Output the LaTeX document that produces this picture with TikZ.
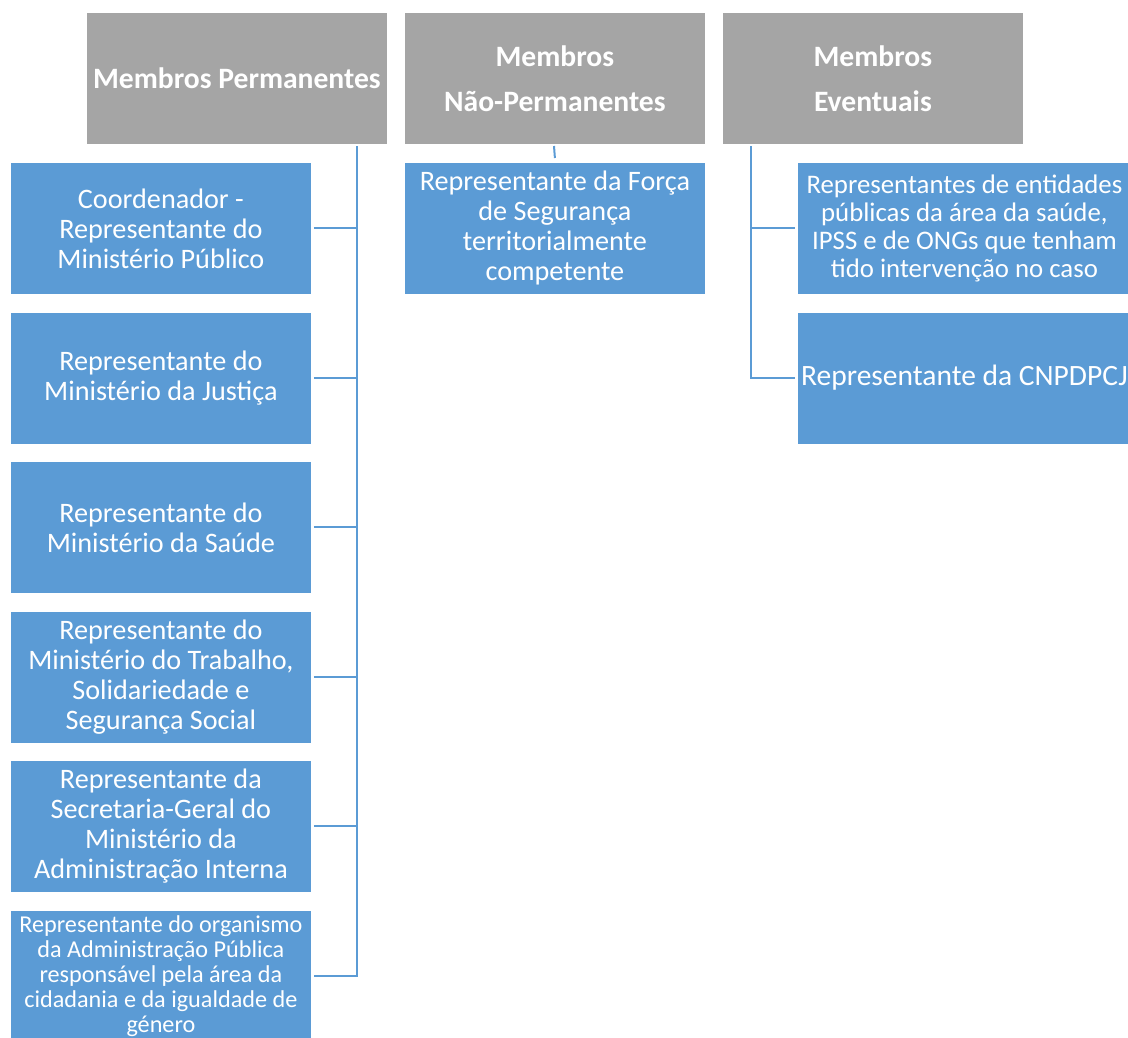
\documentclass[tikz,border=0pt]{standalone}
\usepackage{fontspec}
\setmainfont{Carlito}
\definecolor{hdr}{HTML}{A5A5A5}
\definecolor{blu}{HTML}{5B9BD5}
\begin{document}
\begin{tikzpicture}[x=1pt,y=-1pt,
  hdrbox/.style={fill=hdr,draw=white,line width=0.8pt,minimum width=301pt,minimum height=132pt,inner sep=0pt,anchor=north west,text=white,align=center,font=\bfseries\fontsize{29.6}{45}\selectfont},
  bbox/.style={fill=blu,draw=white,line width=0.8pt,minimum width=301pt,minimum height=132pt,inner sep=0pt,anchor=north west,text=white,align=center,font=\fontsize{28.2}{30}\selectfont},
  conn/.style={draw=blu,line width=2pt}]
\useasboundingbox (0,0) rectangle (1128,1037);
% headers
\node[hdrbox] (h1) at (86,12) {Membros Permanentes};
\node[hdrbox] (h2) at (404,12) {Membros\\Não-Permanentes};
\node[hdrbox] (h3) at (722,12) {Membros\\Eventuais};
% left column
\node[bbox] (p1) at (10,162) {Coordenador -\\Representante do\\Ministério Público};
\node[bbox] (p2) at (10,311.5) {Representante do\\Ministério da Justiça};
\node[bbox] (p3) at (10,461) {Representante do\\Ministério da Saúde};
\node[bbox] (p4) at (10,610.5) {Representante do\\Ministério do Trabalho,\\Solidariedade e\\Segurança Social};
\node[bbox] (p5) at (10,760) {Representante da\\Secretaria-Geral do\\Ministério da\\Administração Interna};
\node[bbox,font=\fontsize{24.2}{25}\selectfont] (p6) at (10,909.5) {Representante do organismo\\da Administração Pública\\responsável pela área da\\cidadania e da igualdade de\\género};
% middle column
\node[bbox] (n1) at (404,162) {Representante da Força\\de Segurança\\territorialmente\\competente};
% right column
\node[bbox,minimum width=334pt,font=\fontsize{26.8}{28}\selectfont] (e1) at (797,162) {Representantes de entidades\\públicas da área da saúde,\\IPSS e de ONGs que tenham\\tido intervenção no caso};
\node[bbox,minimum width=334pt,font=\fontsize{29.5}{32}\selectfont] (e2) at (797,311.5) {Representante da CNPDPCJ};
% connectors
\coordinate (t1) at (357,146);
\coordinate (t2) at (554,146);
\coordinate (t3) at (751,146);
\draw[conn] (t1) |- ([xshift=2pt]p6.east);
\foreach \b in {p1,p2,p3,p4,p5}{
  \draw[conn] ([xshift=2pt]\b.east) -- (\b.east -| t1);
}
\draw[conn] (t2) -- ([yshift=4pt]n1.north);
\draw[conn] (t3) |- ([xshift=-2pt]e2.west);
\draw[conn] (e1.west -| t3) -- ([xshift=-2pt]e1.west);
\end{tikzpicture}
\end{document}
